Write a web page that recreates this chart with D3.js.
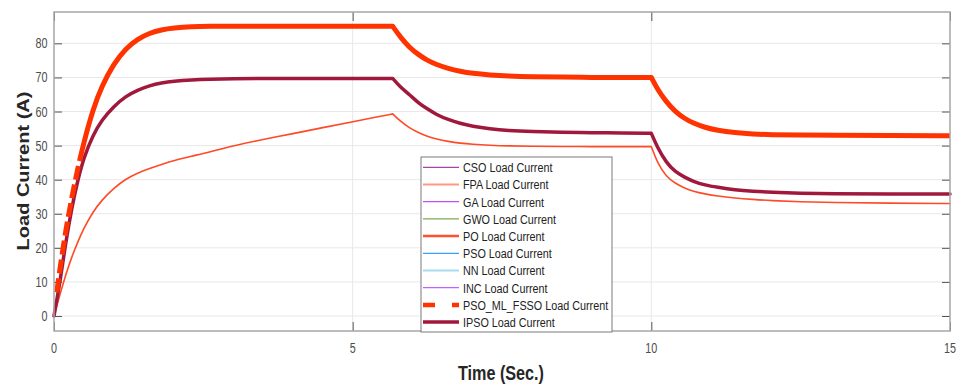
<!DOCTYPE html>
<html><head><meta charset="utf-8">
<script src="https://cdn.jsdelivr.net/npm/d3@7"></script>
<style>html,body{margin:0;padding:0;background:#fff;}svg{display:block;font-family:"Liberation Sans",Arial,sans-serif;}</style>
</head><body><svg id="chart" width="963" height="385"></svg>
<script>
// ---- data ----
const time = [0,0.05,0.1,0.2,0.3,0.4,0.5,0.65,0.8,1.0,1.2,1.4,1.6,1.8,2.0,2.3,2.6,3.0,3.5,4.0,4.5,5.0,5.4,5.67,
  5.8,5.95,6.1,6.25,6.4,6.6,6.8,7.0,7.3,7.6,8.0,8.5,9.0,9.5,10.0,
  10.1,10.25,10.4,10.55,10.7,10.9,11.1,11.4,11.7,12.0,12.5,13.0,14.0,15.0];
const psoMlFsso = [0,7.5,14,25.5,35,43.5,51,60.5,67.5,74,78.5,81.3,83,84,84.5,84.9,85,85,85,85,85,85,85,85,
  81.8,78.8,76.7,75.0,73.8,72.6,71.8,71.2,70.7,70.4,70.2,70.1,70,70,70,
  66.6,62.8,60.0,58.0,56.6,55.3,54.5,53.8,53.4,53.2,53.1,53.05,53.0,52.9];
const ipso = [0,5,10,22,32,40,46.5,53,57.5,61.5,64.5,66.3,67.6,68.4,68.9,69.3,69.5,69.6,69.7,69.7,69.7,69.7,69.7,69.7,
  67.1,65.0,62.5,60.8,59.1,57.6,56.5,55.7,54.9,54.4,54.1,53.9,53.8,53.7,53.6,
  49.5,45.0,42.3,40.8,39.5,38.4,37.8,37.0,36.6,36.3,36.0,35.9,35.8,35.8];
const po = [0,3.2,6.3,12.3,17.5,21.8,25.8,30.5,34,37.5,40.2,42,43.3,44.5,45.6,46.9,48.1,50.0,51.8,53.5,55.3,57.0,58.4,59.3,
  57.1,55.2,53.8,52.7,51.9,51.2,50.7,50.4,50.1,49.9,49.8,49.75,49.7,49.7,49.7,
  45.0,40.9,38.9,37.6,36.6,35.8,35.2,34.6,34.2,33.85,33.5,33.3,33.1,33.0];
const loadSteps = [5.67, 10];   // times where the load changes (curve knees)
const legendLabels = ["CSO Load Current","FPA Load Current","GA Load Current","GWO Load Current","PO Load Current",
  "PSO Load Current","NN Load Current","INC Load Current","PSO_ML_FSSO Load Current","IPSO Load Current"];
const yTicks = [0,10,20,30,40,50,60,70,80];
const xTicks = [0,5,10,15];
const xLabel = "Time (Sec.)";
const yLabel = "Load Current (A)";

// ---- styles ----
const legendStyles = [
  {color:"#a347a3", width:1.2},
  {color:"#ff9a80", width:2},
  {color:"#c050f0", width:1.2},
  {color:"#7faa55", width:1.2},
  {color:"#ff5030", width:2.5},
  {color:"#3aa0ff", width:1.2},
  {color:"#a8dcf0", width:2},
  {color:"#c060ff", width:1.2},
  {color:"#ff3300", width:4.5, dash:"12,17"},
  {color:"#a0193c", width:3.5}
];

const svg = d3.select("#chart");
const L=54, R=950, T=12, B=331;
const x = d3.scaleLinear().domain([0,15]).range([L,R]);
const y = d3.scaleLinear().domain([-4.4,89.2]).range([B,T]);
const SX = 0.77;

// grid
svg.append("g").selectAll("line").data(yTicks).join("line")
  .attr("x1",L).attr("x2",R).attr("y1",d=>y(d)).attr("y2",d=>y(d))
  .attr("stroke","#e8e8e8").attr("stroke-width",1);
svg.append("g").selectAll("line").data(xTicks.filter(d=>d>0&&d<15)).join("line")
  .attr("y1",T).attr("y2",B).attr("x1",d=>x(d)).attr("x2",d=>x(d))
  .attr("stroke","#e8e8e8").attr("stroke-width",1);

// ticks (inside) using axes
const tickStyle = g => { g.select(".domain").remove(); g.selectAll("text").remove(); g.selectAll("line").attr("stroke","#555"); };
svg.append("g").attr("transform",`translate(${L},0)`).call(d3.axisLeft(y).tickValues(yTicks).tickSizeInner(-8).tickSizeOuter(0)).call(tickStyle);
svg.append("g").attr("transform",`translate(${R},0)`).call(d3.axisRight(y).tickValues(yTicks).tickSizeInner(-8).tickSizeOuter(0)).call(tickStyle);
svg.append("g").attr("transform",`translate(0,${B})`).call(d3.axisBottom(x).tickValues(xTicks).tickSizeInner(-9).tickSizeOuter(0)).call(tickStyle);
svg.append("g").attr("transform",`translate(0,${T})`).call(d3.axisTop(x).tickValues(xTicks).tickSizeInner(-9).tickSizeOuter(0)).call(tickStyle);

// lines: smooth each load segment separately, keep knees sharp, one continuous subpath
function segPath(arr){
  const pts = time.map((t,i)=>[t,arr[i]]);
  const bounds = [0, ...loadSteps, 15];
  const gen = d3.line().x(d=>x(d[0])).y(d=>y(d[1])).curve(d3.curveBasis);
  let d = "";
  for(let s=0;s<bounds.length-1;s++){
    const seg = pts.filter(p=>p[0]>=bounds[s]-1e-9 && p[0]<=bounds[s+1]+1e-9);
    let part = gen(seg);
    if(s>0) part = "L" + part.slice(1);
    d += part;
  }
  return d;
}
function drawLine(arr,color,w,dash){
  svg.append("path").attr("d",segPath(arr)).attr("fill","none").attr("stroke",color)
    .attr("stroke-width",w).attr("stroke-linejoin","round").attr("stroke-linecap", dash?"butt":"round")
    .attr("stroke-dasharray",dash||null);
}
drawLine(po,"#ff4a26",1.6);
drawLine(ipso,"#a0193c",3.5);
drawLine(psoMlFsso,"#ff3300",5,"0,24,14,5,14,5,14,5,14,5,14,5,14,5,14,5,5000");

// box
svg.append("rect").attr("x",L).attr("y",T).attr("width",R-L).attr("height",B-T)
  .attr("fill","none").attr("stroke","#a6a6a6").attr("stroke-width",1.5);

// tick labels
svg.append("g").selectAll("text").data(yTicks).join("text")
  .attr("transform",d=>`translate(47.5,${y(d)+5}) scale(${SX},1)`)
  .attr("text-anchor","end").attr("font-size",14).attr("fill","#4d4d4d").text(d=>d);
svg.append("g").selectAll("text").data(xTicks).join("text")
  .attr("transform",d=>`translate(${x(d)},${353}) scale(${SX},1)`)
  .attr("text-anchor","middle").attr("font-size",14).attr("fill","#4d4d4d").text(d=>d);

// axis titles
svg.append("text").attr("transform",`translate(501,380) scale(${SX},1)`).attr("text-anchor","middle")
  .attr("font-size",21).attr("font-weight","bold").attr("fill","#262626").text(xLabel);
svg.append("text").attr("transform",`translate(29,171) rotate(-90) scale(1,0.8)`).attr("text-anchor","middle")
  .attr("font-size",20).attr("font-weight","bold").attr("fill","#262626").text(yLabel);

// legend
const lg = svg.append("g");
lg.append("rect").attr("x",421).attr("y",157).attr("width",191).attr("height",175)
  .attr("fill","#fff").attr("stroke","#7a7a7a").attr("stroke-width",1);
const rows = lg.selectAll("g.row").data(legendLabels).join("g").attr("class","row")
  .attr("transform",(d,i)=>`translate(0,${167.3+i*17.2})`);
rows.append("line").attr("x1",423).attr("x2",459).attr("y1",0).attr("y2",0)
  .attr("stroke",(d,i)=>legendStyles[i].color).attr("stroke-width",(d,i)=>legendStyles[i].width)
  .attr("stroke-dasharray",(d,i)=>legendStyles[i].dash||null);
rows.append("text").attr("transform",`translate(463,4.8) scale(0.8,1)`)
  .attr("font-size",13.5).attr("fill","#222").text(d=>d);
</script></body></html>
